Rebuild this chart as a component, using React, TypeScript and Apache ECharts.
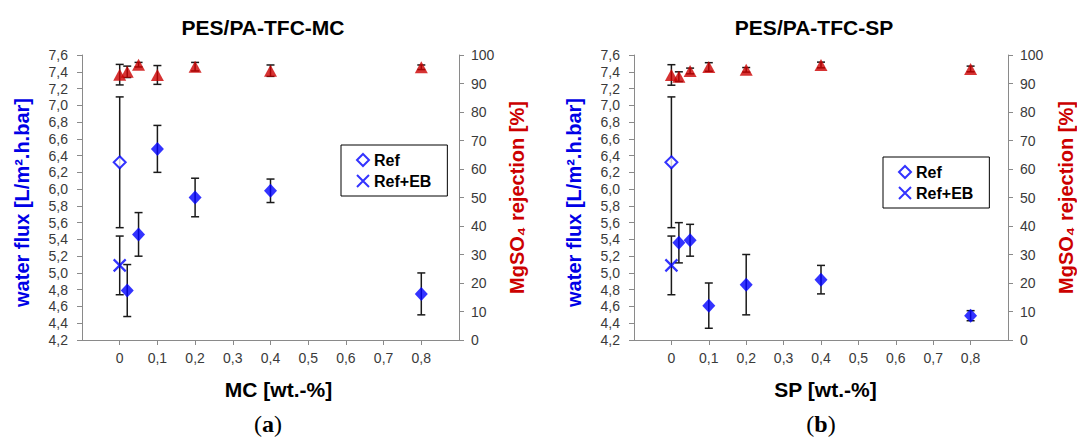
import React, { useEffect, useRef } from "react";
import * as echarts from "echarts";

// ---------- data ----------
const xTickMin = -0.1;
const xTickMax = 0.9;
const fluxMin = 4.2;
const fluxMax = 7.6;
const rejMin = 0;
const rejMax = 100;

// reference membranes (x = 0)
const refX = [0];
const refFlux = [6.32];
const refFluxErr = [0.78];
const refEbFlux = [5.09];
const refEbFluxErr = [0.35];

// panel (a) MC
const mcX = [0.02, 0.05, 0.1, 0.2, 0.4, 0.8];
const mcFlux = [4.79, 5.46, 6.48, 5.9, 5.98, 4.75];
const mcFluxErr = [0.31, 0.26, 0.28, 0.23, 0.14, 0.25];
const mcRejX = [0, 0.02, 0.05, 0.1, 0.2, 0.4, 0.8];
const mcRej = [93.1, 94.1, 96.6, 93.0, 95.9, 94.5, 95.7];
const mcRejErr = [3.6, 2.0, 0.8, 3.3, 1.5, 2.0, 0.8];

// panel (b) SP
const spX = [0.02, 0.05, 0.1, 0.2, 0.4, 0.8];
const spFlux = [5.36, 5.39, 4.61, 4.86, 4.92, 4.49];
const spFluxErr = [0.24, 0.19, 0.27, 0.36, 0.17, 0.06];
const spRejX = [0, 0.02, 0.05, 0.1, 0.2, 0.4, 0.8];
const spRej = [93.0, 92.4, 94.4, 95.8, 94.8, 96.5, 95.1];
const spRejErr = [3.6, 1.7, 1.0, 1.5, 0.8, 1.0, 1.0];

const titles = ["PES/PA-TFC-MC", "PES/PA-TFC-SP"];
const xNames = ["MC [wt.-%]", "SP [wt.-%]"];
const panelLetters = ["a", "b"];
const fluxName = "water flux [L/m\u00b2.h.bar]";
const rejName = "MgSO\u2084 rejection [%]";
const legendNames = ["Ref", "Ref+EB"];

// ---------- styles ----------
const FONT = "Arial, 'Liberation Sans', sans-serif";
const SERIF = "'Liberation Serif', 'DejaVu Serif', serif";
const BLUE = "#0000FF";
const RED = "#CC0000";
const AXIS = "#8a8a8a";
const TICKTXT = "#3a3a3a";
const ERR = "#1a1a1a";
const CROSS = "path://M0,0L10,10M10,0L0,10";

const fmtComma = (v: number) => {
  if (Math.abs(v) < 1e-9) return "0";
  return v.toFixed(1).replace(".", ",");
};

const pairs = (xs: number[], ys: number[]) => xs.map((x, i) => [x, ys[i]]);
const errs = (xs: number[], ys: number[], es: number[]) =>
  xs.map((x, i) => [x, ys[i] - es[i], ys[i] + es[i]]);

function errorSeries(axisIdx: number, yIdx: number, data: number[][]) {
  return {
    type: "custom",
    xAxisIndex: axisIdx,
    yAxisIndex: yIdx,
    silent: true,
    z: 1,
    data,
    encode: { x: 0, y: [1, 2] },
    renderItem: (params: any, api: any) => {
      const x = api.value(0);
      const lo = api.coord([x, api.value(1)]);
      const hi = api.coord([x, api.value(2)]);
      const hw = 4;
      const st = { stroke: ERR, lineWidth: 1.5 };
      return {
        type: "group",
        children: [
          { type: "line", shape: { x1: lo[0], y1: lo[1], x2: hi[0], y2: hi[1] }, style: st },
          { type: "line", shape: { x1: lo[0] - hw, y1: lo[1], x2: lo[0] + hw, y2: lo[1] }, style: st },
          { type: "line", shape: { x1: hi[0] - hw, y1: hi[1], x2: hi[0] + hw, y2: hi[1] }, style: st },
        ],
      };
    },
  };
}

export default function App() {
  const ref = useRef<HTMLDivElement>(null);

  useEffect(() => {
    if (!ref.current) return;
    const chart = echarts.init(ref.current, null, { renderer: "svg" });

    const grids = [
      { left: 82, top: 55, width: 377, height: 285 },
      { left: 634, top: 55, width: 376, height: 285 },
    ];
    const xNamePad = [16, 9];
    const fluxSets = [
      { x: mcX, y: mcFlux, e: mcFluxErr, rx: mcRejX, r: mcRej, re: mcRejErr },
      { x: spX, y: spFlux, e: spFluxErr, rx: spRejX, r: spRej, re: spRejErr },
    ];

    const xAxes: any[] = [];
    const yAxes: any[] = [];
    const series: any[] = [];

    grids.forEach((g, i) => {
      xAxes.push({
        type: "value",
        gridIndex: i,
        min: xTickMin,
        max: xTickMax,
        interval: 0.1,
        name: xNames[i],
        nameLocation: "middle",
        nameGap: 39,
        nameTextStyle: {
          fontFamily: FONT,
          fontSize: 21,
          fontWeight: "bold",
          color: "#000",
          padding: [0, 0, 0, xNamePad[i]],
        },
        axisLine: { show: true, onZero: false, lineStyle: { color: AXIS, width: 1 } },
        axisTick: { show: true, inside: false, length: 5, lineStyle: { color: AXIS } },
        splitLine: { show: false },
        axisLabel: {
          margin: 11,
          fontFamily: FONT,
          fontSize: 14,
          color: TICKTXT,
          showMinLabel: false,
          showMaxLabel: false,
          formatter: (v: number) => (v < -0.05 || v > 0.85 ? "" : fmtComma(v)),
        },
      });
      yAxes.push({
        type: "value",
        gridIndex: i,
        position: "left",
        min: fluxMin,
        max: fluxMax,
        interval: 0.2,
        name: fluxName,
        nameLocation: "middle",
        nameRotate: 90,
        nameGap: 50,
        nameTextStyle: {
          fontFamily: FONT,
          fontSize: 20,
          fontWeight: "bold",
          color: "#0000E6",
          padding: [0, 10, 0, 0],
        },
        axisLine: { show: true, onZero: false, lineStyle: { color: AXIS, width: 1 } },
        axisTick: { show: true, inside: false, length: 5, lineStyle: { color: AXIS } },
        splitLine: { show: false },
        axisLabel: {
          margin: 14,
          fontFamily: FONT,
          fontSize: 14,
          color: TICKTXT,
          formatter: (v: number) => fmtComma(v),
        },
      });
      yAxes.push({
        type: "value",
        gridIndex: i,
        position: "right",
        min: rejMin,
        max: rejMax,
        interval: 10,
        name: rejName,
        nameLocation: "middle",
        nameRotate: 90,
        nameGap: 48,
        nameTextStyle: {
          fontFamily: FONT,
          fontSize: 20,
          fontWeight: "bold",
          color: RED,
        },
        axisLine: { show: true, onZero: false, lineStyle: { color: AXIS, width: 1 } },
        axisTick: { show: true, inside: false, length: 5, lineStyle: { color: AXIS } },
        splitLine: { show: false },
        axisLabel: {
          margin: 12,
          fontFamily: FONT,
          fontSize: 14,
          color: TICKTXT,
        },
      });

      const fy = i * 2;
      const ry = i * 2 + 1;
      const d = fluxSets[i];

      series.push(errorSeries(i, fy, errs(refX, refFlux, refFluxErr)));
      series.push(errorSeries(i, fy, errs(refX, refEbFlux, refEbFluxErr)));
      series.push(errorSeries(i, fy, errs(d.x, d.y, d.e)));
      series.push(errorSeries(i, ry, errs(d.rx, d.r, d.re)));

      series.push({
        type: "scatter",
        name: "Ref",
        xAxisIndex: i,
        yAxisIndex: fy,
        z: 3,
        symbol: "diamond",
        symbolSize: 12,
        itemStyle: { color: "#ffffff", borderColor: BLUE, borderWidth: 2 },
        data: pairs(refX, refFlux),
      });
      series.push({
        type: "scatter",
        name: "Ref+EB",
        xAxisIndex: i,
        yAxisIndex: fy,
        z: 3,
        symbol: CROSS,
        symbolSize: 12,
        itemStyle: { color: "transparent", borderColor: BLUE, borderWidth: 2.2 },
        data: pairs(refX, refEbFlux),
      });
      series.push({
        type: "scatter",
        name: "flux" + i,
        xAxisIndex: i,
        yAxisIndex: fy,
        z: 3,
        symbol: "diamond",
        symbolSize: [13, 14],
        itemStyle: { color: BLUE },
        data: pairs(d.x, d.y),
      });
      series.push({
        type: "scatter",
        name: "rej" + i,
        xAxisIndex: i,
        yAxisIndex: ry,
        z: 3,
        symbol: "triangle",
        symbolSize: [13, 12],
        itemStyle: { color: RED },
        data: pairs(d.rx, d.r),
      });
    });

    const legendPos = [
      { left: 341, top: 145 },
      { left: 883, top: 157 },
    ];

    const graphics: any[] = [];
    const titleX = [263, 814];
    const letterX = [268, 821];
    titles.forEach((t, i) => {
      graphics.push({
        type: "text",
        x: titleX[i],
        y: 27,
        style: {
          text: t,
          fontFamily: FONT,
          fontSize: 21,
          fontWeight: "bold",
          fill: "#000",
          textAlign: "center",
          textVerticalAlign: "middle",
        },
      });
      graphics.push({
        type: "text",
        x: letterX[i],
        y: 424,
        style: {
          text: "({b|" + panelLetters[i] + "})",
          fontFamily: SERIF,
          fontSize: 24,
          fill: "#000",
          textAlign: "center",
          textVerticalAlign: "middle",
          rich: {
            b: {
              fontFamily: SERIF,
              fontSize: 24,
              fontWeight: "bold",
              fill: "#000",
            },
          },
        },
      });
    });

    chart.setOption({
      animation: false,
      backgroundColor: "#ffffff",
      grid: grids,
      xAxis: xAxes,
      yAxis: yAxes,
      legend: legendPos.map((p) => ({
        orient: "vertical",
        left: p.left,
        top: p.top,
        data: legendNames,
        padding: [7, 16, 7, 15],
        itemWidth: 12,
        itemHeight: 12,
        itemGap: 5,
        borderColor: "#000",
        borderWidth: 1,
        selectedMode: false,
        textStyle: { fontFamily: FONT, fontSize: 16, fontWeight: "bold", color: "#000" },
      })),
      graphic: graphics,
      series,
    });

    return () => chart.dispose();
  }, []);

  return (
    <div
      ref={ref}
      style={{ position: "absolute", left: 0, top: 0, width: 1077, height: 441, background: "#fff" }}
    />
  );
}
